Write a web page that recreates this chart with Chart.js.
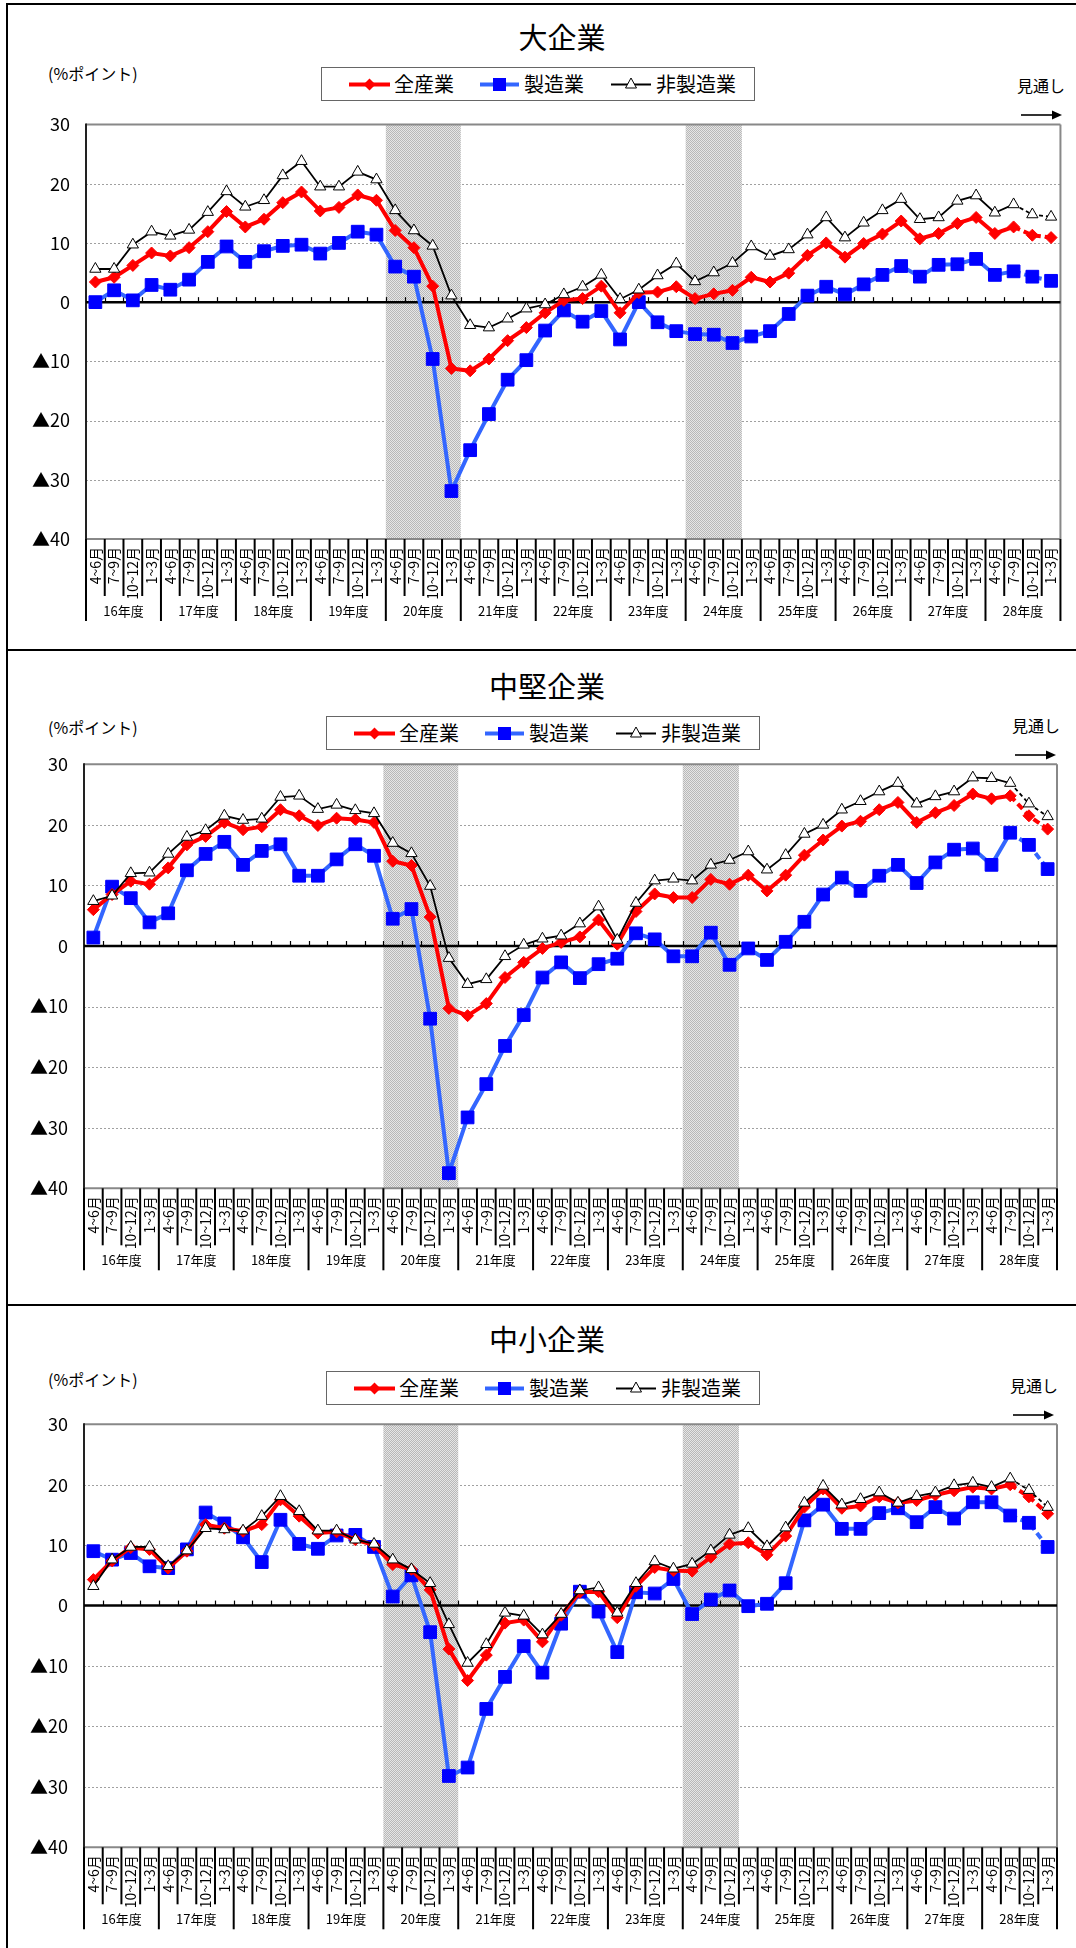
<!DOCTYPE html>
<html>
<head>
<meta charset="utf-8">
<script src="https://cdn.jsdelivr.net/npm/chart.js@4.4.1/dist/chart.umd.min.js"></script>
<style>
  body { margin: 0; background: #fff; }
  #page { position: relative; width: 1076px; height: 1948px; overflow: hidden; font-family: "Noto Sans CJK JP", sans-serif; color: #000; }
  .rule { position: absolute; background: #000; }
  canvas { position: absolute; left: 0; }
  .title { position: absolute; font-size: 29px; line-height: 29px; white-space: nowrap; transform: translateX(-50%); }
  .unit { position: absolute; font-size: 16px; line-height: 16px; white-space: nowrap; }
  .note { position: absolute; font-size: 16px; line-height: 16px; white-space: nowrap; transform: translateX(-50%); }
  .legend { position: absolute; width: 434px; height: 34px; border: 1.5px solid #666; box-sizing: border-box; }
  .legend span { position: absolute; top: 6px; font-size: 20px; line-height: 20px; white-space: nowrap; }
  .legend svg, .arrow { position: absolute; left: 0; top: 0; }
</style>
</head>
<body>
<div id="page"></div>
<script>
// 年度・四半期
var fiscalYears = ['16年度','17年度','18年度','19年度','20年度','21年度','22年度','23年度','24年度','25年度','26年度','27年度','28年度'];
var quarters = ['4~6月','7~9月','10~12月','1~3月'];
var yTicks = [30, 20, 10, 0, -10, -20, -30, -40];
var seriesNames = ['全産業', '製造業', '非製造業'];
// 景気後退期（四半期の番号）
var recessions = [[16, 19], [32, 34]];
// ここから見通し（点線）
var forecastFrom = 49;

// 大企業
var largeAll = [3.4,4.2,6.2,8.3, 7.8,9.2,11.9,15.3, 12.7,14.0,16.8,18.6, 15.4,16.0,18.1,17.2, 12.1,9.2,2.7,-11.2, -11.6,-9.6,-6.5,-4.3, -1.8,0.3,0.6,2.7, -1.8,1.6,1.7,2.6, 0.6,1.4,2.0,4.2, 3.4,4.9,7.9,10.0, 7.6,9.9,11.5,13.7, 10.7,11.6,13.3,14.3, 11.6,12.7,11.3,10.9];
var largeMfg = [0.0,2.0,0.3,2.9, 2.1,3.8,6.8,9.4, 6.8,8.6,9.5,9.7, 8.2,10.0,11.9,11.4, 6.0,4.3,-9.6,-31.9, -25.0,-18.9,-13.1,-9.8, -4.8,-1.4,-3.3,-1.5, -6.3,0.0,-3.4,-4.9, -5.4,-5.5,-6.9,-5.8, -4.9,-2.0,1.1,2.6, 1.3,3.0,4.6,6.1, 4.3,6.3,6.4,7.3, 4.6,5.2,4.3,3.6];
var largeNonMfg = [5.6,5.6,9.7,11.9, 11.2,12.2,15.2,18.7, 16.1,17.2,21.4,23.8, 19.5,19.5,22.0,20.7, 15.5,12.1,9.5,1.1, -3.9,-4.3,-2.8,-1.1, -0.4,1.3,2.6,4.6, 0.5,2.1,4.5,6.5, 3.5,5.0,6.6,9.4, 7.8,8.9,11.4,14.3, 10.9,13.4,15.5,17.4, 14.0,14.3,17.1,18.0, 15.1,16.5,14.8,14.4];

// 中堅企業
var midAll = [6.0,8.5,10.7,10.2, 12.9,16.7,18.1,20.4, 19.2,19.7,22.5,21.5, 19.9,21.1,20.9,20.4, 14.0,13.3,4.8,-10.3, -11.5,-9.5,-5.2,-2.7, -0.4,0.6,1.5,4.3, 0.3,5.7,8.6,8.0, 8.0,11.0,10.2,11.7, 9.1,11.7,15.0,17.5, 19.8,20.6,22.5,23.7, 20.4,22.0,23.2,25.1, 24.3,24.8,21.5,19.3];
var midMfg = [1.4,9.8,7.9,3.9, 5.4,12.5,15.2,17.2, 13.4,15.7,16.8,11.6, 11.6,14.3,16.8,14.9, 4.5,6.1,-12.0,-37.5, -28.3,-22.8,-16.5,-11.4, -5.2,-2.7,-5.3,-3.0, -2.1,2.1,1.1,-1.7, -1.7,2.2,-3.1,-0.4, -2.3,0.7,4.0,8.5, 11.3,9.1,11.6,13.4, 10.4,13.8,15.9,16.1, 13.4,18.7,16.7,12.7];
var midNonMfg = [7.4,8.3,12.0,12.1, 15.2,18.0,19.1,21.5, 20.8,21.0,24.6,24.8, 22.6,23.3,22.4,21.9, 17.0,15.3,9.9,-2.0, -6.3,-5.5,-1.7,0.2, 1.2,1.7,3.7,6.5, 1.0,7.1,10.8,11.1, 10.8,13.4,14.2,15.6, 12.6,15.0,18.5,20.0, 22.5,23.9,25.5,26.9, 23.5,24.7,25.5,27.8, 27.7,26.9,23.5,21.4];

// 中小企業
var smallAll = [4.3,7.4,9.6,9.3, 6.2,9.0,13.4,12.8, 12.3,13.4,17.5,14.8, 12.0,12.2,10.9,10.0, 6.8,6.0,2.6,-7.2, -12.4,-8.2,-2.9,-2.4, -6.0,-1.6,2.2,2.3, -2.0,3.2,6.3,5.8, 5.7,8.0,10.2,10.4, 8.4,11.5,16.3,19.3, 16.1,16.5,18.0,17.0, 17.4,18.3,19.0,19.6, 19.3,20.0,18.0,15.2];
var smallMfg = [9.0,7.6,8.7,6.5, 6.2,9.3,15.4,13.6, 11.3,7.2,14.2,10.2, 9.4,11.6,11.7,9.7, 1.5,5.0,-4.4,-28.2, -26.8,-17.1,-11.8,-6.7, -11.1,-3.0,2.3,-1.0, -7.7,2.2,2.0,4.4, -1.4,1.0,2.5,-0.1, 0.3,3.7,14.1,16.7, 12.7,12.7,15.3,16.1, 13.8,16.3,14.4,17.1, 17.1,14.9,13.7,9.7];
var smallNonMfg = [3.2,7.6,9.7,9.7, 6.5,9.1,12.8,12.6, 12.4,14.8,18.1,15.6, 12.4,12.4,10.9,10.2, 7.6,6.0,3.7,-3.1, -9.5,-6.4,-1.2,-1.7, -4.8,-1.4,2.5,3.0, -1.2,3.7,7.3,6.1, 6.9,9.1,11.7,12.8, 9.8,12.9,17.0,19.8, 16.7,17.6,18.7,17.0, 18.1,18.7,19.9,20.3, 19.6,21.0,19.1,16.3];

var categories = [];
for (var i = 0; i < fiscalYears.length; i++) {
  for (var j = 0; j < quarters.length; j++) categories.push(quarters[j]);
}

var panels = [
  {title: '大企業', data: [largeAll, largeMfg, largeNonMfg],
   top: 0, height: 650, plotTop: 124.5, plotBottom: 539, left: 86, right: 1063,
   titleX: 562, titleY: 37, unitY: 73, legendX: 321, legendY: 67, noteX: 1041, noteY: 85, arrowX: 1021, arrowY: 107.5},
  {title: '中堅企業', data: [midAll, midMfg, midNonMfg],
   top: 650, height: 655, plotTop: 764.3, plotBottom: 1188.3, left: 84, right: 1057,
   titleX: 547, titleY: 686, unitY: 727, legendX: 326, legendY: 716, noteX: 1036, noteY: 725, arrowX: 1015, arrowY: 748},
  {title: '中小企業', data: [smallAll, smallMfg, smallNonMfg],
   top: 1305, height: 643, plotTop: 1424.3, plotBottom: 1847.3, left: 84, right: 1057,
   titleX: 547, titleY: 1339, unitY: 1379, legendX: 326, legendY: 1371, noteX: 1034, noteY: 1385, arrowX: 1013, arrowY: 1407.5}
];

var page = document.getElementById('page');

function addDiv(cls, css, html) {
  var d = document.createElement('div');
  d.className = cls;
  d.style.cssText = css;
  if (html) d.innerHTML = html;
  page.appendChild(d);
  return d;
}

// 枠線
addDiv('rule', 'left:6px;top:3px;width:2px;height:1945px;');
addDiv('rule', 'left:6px;top:3px;width:1070px;height:2px;');
addDiv('rule', 'left:6px;top:649px;width:1070px;height:2px;');
addDiv('rule', 'left:6px;top:1304px;width:1070px;height:2px;');

// 網掛け
var pat = document.createElement('canvas');
pat.width = 2; pat.height = 2;
var pc = pat.getContext('2d');
pc.fillStyle = '#e6e6e6'; pc.fillRect(0, 0, 2, 2);
pc.fillStyle = '#b8b8b8'; pc.fillRect(0, 0, 1, 1); pc.fillRect(1, 1, 1, 1);

function line(ctx, x1, y1, x2, y2) {
  ctx.beginPath(); ctx.moveTo(x1, y1); ctx.lineTo(x2, y2); ctx.stroke();
}

var framePlugin = {
  id: 'frame',
  beforeDatasetsDraw: function(chart) {
    var ctx = chart.ctx, a = chart.chartArea, x = chart.scales.x, y = chart.scales.y;
    var w = x.getPixelForValue(1) - x.getPixelForValue(0);
    ctx.save();
    // 目盛線
    ctx.strokeStyle = '#a0a0a0'; ctx.lineWidth = 1; ctx.setLineDash([2, 2]);
    yTicks.forEach(function(v) {
      if (v === 0 || v === yTicks[0] || v === yTicks[yTicks.length - 1]) return;
      var py = Math.round(y.getPixelForValue(v)) + 0.5;
      line(ctx, a.left, py, a.right, py);
    });
    ctx.setLineDash([]);
    // 景気後退期
    ctx.fillStyle = ctx.createPattern(pat, 'repeat');
    recessions.forEach(function(r) {
      var x0 = x.getPixelForValue(r[0]) - w / 2, x1 = x.getPixelForValue(r[1]) + w / 2;
      ctx.fillRect(x0, a.top, x1 - x0, a.bottom - a.top);
    });
    // 外枠
    ctx.strokeStyle = '#888'; ctx.lineWidth = 2;
    line(ctx, a.left, a.top, a.right, a.top);
    line(ctx, a.right, a.top, a.right, a.bottom);
    line(ctx, a.left, a.bottom, a.right, a.bottom);
    ctx.strokeStyle = '#222';
    line(ctx, a.left, a.top - 1, a.left, a.bottom + 1);
    // ゼロ線
    var zy = y.getPixelForValue(0);
    ctx.strokeStyle = '#000'; ctx.lineWidth = 1.2;
    for (var k = 1; k < categories.length; k++) {
      var bx = Math.round(x.getPixelForValue(k) - w / 2) + 0.5;
      line(ctx, bx, zy, bx, zy - 5);
    }
    ctx.lineWidth = 2.5;
    line(ctx, a.left, zy, a.right, zy);
    ctx.restore();
  },
  afterDraw: function(chart) {
    var ctx = chart.ctx, a = chart.chartArea, x = chart.scales.x;
    var w = x.getPixelForValue(1) - x.getPixelForValue(0);
    ctx.save();
    ctx.strokeStyle = '#000'; ctx.lineWidth = 2;
    for (var k = 0; k <= categories.length; k++) {
      var bx = x.getPixelForValue(0) - w / 2 + k * w;
      line(ctx, bx, a.bottom, bx, a.bottom + (k % 4 === 0 ? 82 : 57));
    }
    ctx.fillStyle = '#000';
    ctx.font = '13px "Noto Sans CJK JP"';
    ctx.textAlign = 'center'; ctx.textBaseline = 'middle';
    fiscalYears.forEach(function(fy, n) {
      var cx = x.getPixelForValue(0) - w / 2 + (n * 4 + 2) * w;
      ctx.fillText(fy, cx, a.bottom + 72);
    });
    ctx.restore();
  }
};

function dash(pattern) {
  return function(c) { return c.p0DataIndex >= forecastFrom ? pattern : undefined; };
}

function legendHtml() {
  return '<svg width="434" height="34">' +
    '<line x1="27" y1="16.5" x2="68" y2="16.5" stroke="#ff0000" stroke-width="4"/>' +
    '<polygon points="47.5,10.5 53.5,16.5 47.5,22.5 41.5,16.5" fill="#ff0000"/>' +
    '<line x1="158" y1="16.5" x2="197" y2="16.5" stroke="#3366ff" stroke-width="4"/>' +
    '<rect x="171" y="10" width="13" height="13" fill="#0000ff"/>' +
    '<line x1="289" y1="16.5" x2="329" y2="16.5" stroke="#000" stroke-width="1.8"/>' +
    '<polygon points="309,10 314.5,20 303.5,20" fill="#fff" stroke="#000" stroke-width="1"/>' +
    '</svg>' +
    '<span style="left:72px">' + seriesNames[0] + '</span>' +
    '<span style="left:202px">' + seriesNames[1] + '</span>' +
    '<span style="left:334px">' + seriesNames[2] + '</span>';
}

panels.forEach(function(p) {
  addDiv('title', 'left:' + p.titleX + 'px;top:' + (p.titleY - 15) + 'px;', p.title);
  addDiv('unit', 'left:48px;top:' + (p.unitY - 8) + 'px;', '(%ポイント)');
  addDiv('legend', 'left:' + p.legendX + 'px;top:' + p.legendY + 'px;', legendHtml());
  addDiv('note', 'left:' + p.noteX + 'px;top:' + (p.noteY - 8) + 'px;', '見通し');
  addDiv('arrow', 'left:' + p.arrowX + 'px;top:' + (p.arrowY - 6) + 'px;width:42px;height:12px;',
    '<svg width="42" height="12"><line x1="0" y1="6" x2="32" y2="6" stroke="#000" stroke-width="1.6"/>' +
    '<polygon points="31,1.5 41,6 31,10.5" fill="#000"/></svg>');

  var canvas = document.createElement('canvas');
  canvas.width = 1076; canvas.height = p.height;
  canvas.style.top = p.top + 'px';
  canvas.style.width = '1076px'; canvas.style.height = p.height + 'px';
  page.appendChild(canvas);

  new Chart(canvas, {
    type: 'line',
    data: {
      labels: categories,
      datasets: [
        {label: seriesNames[0], data: p.data[0], order: 1,
         borderColor: '#ff0000', borderWidth: 4, backgroundColor: '#ff0000',
         pointStyle: 'rectRot', pointRadius: 6, pointBorderWidth: 1, pointBorderColor: '#ff0000', pointBackgroundColor: '#ff0000',
         segment: {borderDash: dash([7, 4])}},
        {label: seriesNames[1], data: p.data[1], order: 2,
         borderColor: '#3366ff', borderWidth: 4, backgroundColor: '#0000ff',
         pointStyle: 'rect', pointRadius: 9, pointBorderWidth: 1, pointBorderColor: '#0000ff', pointBackgroundColor: '#0000ff',
         segment: {borderDash: dash([7, 4])}},
        {label: seriesNames[2], data: p.data[2], order: 0,
         borderColor: '#000', borderWidth: 1.8, backgroundColor: '#fff',
         pointStyle: 'triangle', pointRadius: 6.5, pointBorderWidth: 1, pointBorderColor: '#000', pointBackgroundColor: '#fff',
         segment: {borderDash: dash([4, 3])}}
      ]
    },
    options: {
      responsive: false,
      animation: false,
      devicePixelRatio: 1,
      layout: {padding: {left: 0, right: 1076 - p.right, top: p.plotTop - p.top, bottom: 0}},
      plugins: {legend: {display: false}, tooltip: {enabled: false}},
      elements: {line: {tension: 0}},
      scales: {
        x: {
          offset: true,
          grid: {display: false, drawTicks: false},
          border: {display: false},
          ticks: {autoSkip: false, minRotation: 90, maxRotation: 90, padding: 8, color: '#000',
                  font: {family: '"Noto Sans CJK JP"', size: 14}},
          afterFit: function(s) { s.height = p.height - (p.plotBottom - p.top); }
        },
        y: {
          min: yTicks[yTicks.length - 1], max: yTicks[0],
          grid: {display: false, drawTicks: false},
          border: {display: false},
          ticks: {stepSize: 10, padding: 16, color: '#000',
                  font: {family: '"Noto Sans CJK JP"', size: 18},
                  callback: function(v) { return v < 0 ? '▲' + (-v) : String(v); }},
          afterFit: function(s) { s.width = p.left; }
        }
      }
    },
    plugins: [framePlugin]
  });
});
</script>
</body>
</html>
